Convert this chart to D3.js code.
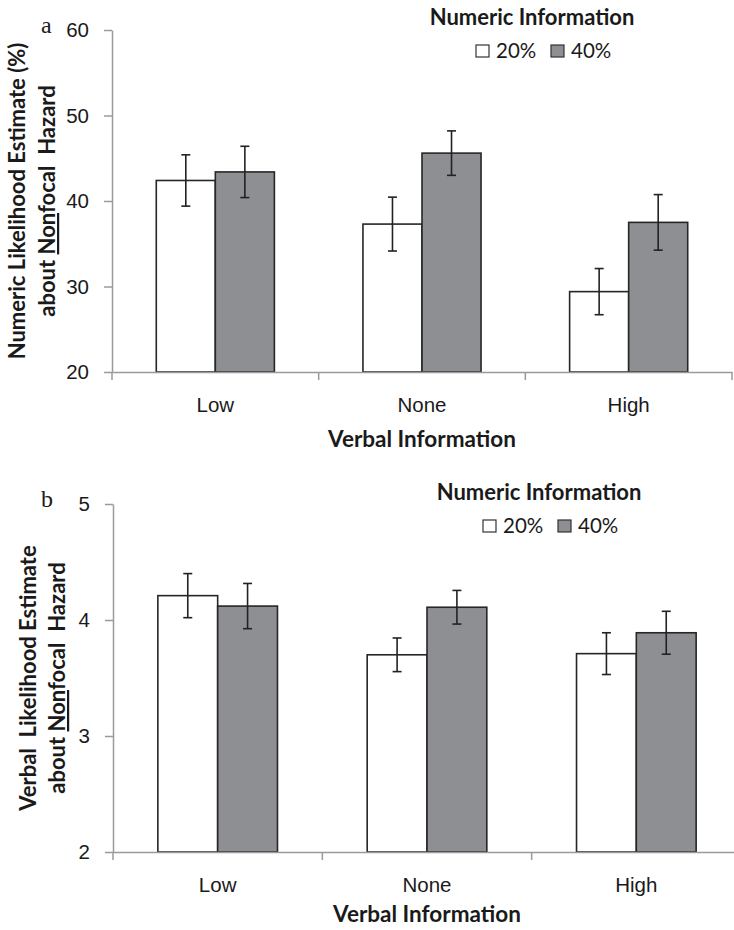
<!DOCTYPE html>
<html>
<head>
<meta charset="utf-8">
<script src="https://cdn.jsdelivr.net/npm/d3@7"></script>
<style>
  body { margin: 0; background: #fff; }
  svg { display: block; font-family: Lato, "Open Sans", sans-serif; }
  .axis path, .axis line { stroke: #9a9a9a; stroke-width: 1.5; }
  .axis text { fill: #1a1a1a; font-size: 20.5px; }
</style>
</head>
<body>
<svg id="chart" width="734" height="930"></svg>
<script>
// data
var categories = ["Low", "None", "High"];
var seriesNames = ["20%", "40%"];

var numericMeans20 = [42.4, 37.3, 29.4];
var numericMeans40 = [43.4, 45.6, 37.5];
var numericErr20 = [3.0, 3.15, 2.7];
var numericErr40 = [3.0, 2.6, 3.25];
var numericTicks = [20, 30, 40, 50, 60];

var verbalMeans20 = [4.21, 3.70, 3.71];
var verbalMeans40 = [4.12, 4.11, 3.89];
var verbalErr20 = [0.19, 0.145, 0.18];
var verbalErr40 = [0.195, 0.145, 0.185];
var verbalTicks = [2, 3, 4, 5];

var fills = { "20%": "#ffffff", "40%": "#8e8f92" };

var svg = d3.select("#chart");

function drawPanel(opt) {
  var g = svg.append("g");

  var rows = [];
  categories.forEach(function(c, i) {
    rows.push({ cat: c, key: "20%", value: opt.m20[i], err: opt.e20[i] });
    rows.push({ cat: c, key: "40%", value: opt.m40[i], err: opt.e40[i] });
  });

  var x0 = d3.scaleBand().domain(categories).range([opt.left, opt.right]);
  var x1 = d3.scaleBand().domain(seriesNames).range([0, x0.bandwidth()]).paddingOuter(0.75);
  var y = d3.scaleLinear().domain(d3.extent(opt.ticks)).range([opt.bottom, opt.top]);

  // bars
  g.selectAll("rect.bar").data(rows).enter().append("rect")
      .attr("class", "bar")
      .attr("x", function(d) { return x0(d.cat) + x1(d.key); })
      .attr("width", x1.bandwidth())
      .attr("y", function(d) { return y(d.value); })
      .attr("height", function(d) { return y(opt.ticks[0]) - y(d.value); })
      .attr("fill", function(d) { return fills[d.key]; })
      .attr("stroke", "#262626")
      .attr("stroke-width", 1.6);

  // error bars
  var eb = g.selectAll("g.err").data(rows).enter().append("g")
      .attr("class", "err")
      .attr("transform", function(d) { return "translate(" + (x0(d.cat) + x1(d.key) + x1.bandwidth() / 2) + ",0)"; })
      .attr("stroke", "#222")
      .attr("stroke-width", 1.6);
  eb.append("line")
      .attr("y1", function(d) { return y(d.value + d.err); })
      .attr("y2", function(d) { return y(d.value - d.err); });
  eb.append("line").attr("x1", -4.5).attr("x2", 4.5)
      .attr("y1", function(d) { return y(d.value + d.err); })
      .attr("y2", function(d) { return y(d.value + d.err); });
  eb.append("line").attr("x1", -4.5).attr("x2", 4.5)
      .attr("y1", function(d) { return y(d.value - d.err); })
      .attr("y2", function(d) { return y(d.value - d.err); });

  // y axis
  g.append("g")
      .attr("class", "axis")
      .attr("transform", "translate(" + opt.left + ",0)")
      .call(d3.axisLeft(y).tickValues(opt.ticks).tickFormat(d3.format("d"))
        .tickSize(8).tickSizeOuter(0).tickPadding(15));

  // x axis, labels at centres, ticks at band edges
  var xa = g.append("g")
      .attr("class", "axis")
      .attr("transform", "translate(0," + opt.bottom + ")")
      .call(d3.axisBottom(x0).tickSize(0).tickPadding(25));
  var edges = categories.map(function(c) { return x0(c); }).concat([opt.right]);
  xa.selectAll("line.edge").data(edges).enter().append("line")
      .attr("class", "edge")
      .attr("x1", function(d) { return d; })
      .attr("x2", function(d) { return d; })
      .attr("y1", 0).attr("y2", 8);

  // x title
  g.append("text")
      .attr("x", (opt.left + opt.right) / 2)
      .attr("y", opt.bottom + opt.xTitleGap)
      .attr("text-anchor", "middle")
      .attr("font-size", 22.5).attr("font-weight", "bold").attr("fill", "#1a1a1a")
      .text("Verbal Information");

  // y title (two lines, rotated)
  var mid = (opt.top + opt.bottom) / 2;
  opt.ylines.forEach(function(line, i) {
    var t = g.append("text")
        .attr("transform", "translate(" + opt.ybase[i] + "," + mid + ") rotate(-90)")
        .attr("text-anchor", "middle")
        .attr("font-size", 22).attr("font-weight", "bold").attr("fill", "#1a1a1a")
        .style("white-space", "pre");
    line.forEach(function(part) {
      t.append("tspan")
          .style("text-decoration", part.u ? "underline" : "none")
          .text(part.s);
    });
  });

  // panel letter
  g.append("text")
      .attr("x", 41).attr("y", opt.top + 3)
      .attr("font-family", "'Liberation Serif', serif")
      .attr("font-size", 24).attr("fill", "#1a1a1a")
      .text(opt.letter);

  // legend
  var lg = g.append("g").attr("transform", "translate(" + opt.legX + "," + opt.legY + ")");
  lg.append("text")
      .attr("x", 0).attr("y", 0)
      .attr("text-anchor", "middle")
      .attr("font-size", 22).attr("font-weight", "bold").attr("fill", "#1a1a1a")
      .text("Numeric Information");
  var items = lg.selectAll("g.item").data(seriesNames).enter().append("g")
      .attr("class", "item")
      .attr("transform", function(d, i) { return "translate(" + (-56 + i * 75) + ",20)"; });
  items.append("rect")
      .attr("width", 13).attr("height", 12)
      .attr("fill", function(d) { return fills[d]; })
      .attr("stroke", "#333").attr("stroke-width", 1.2);
  items.append("text")
      .attr("x", 20).attr("y", 12.5)
      .attr("font-size", 20.5).attr("fill", "#1a1a1a")
      .text(function(d) { return d; });
}

drawPanel({
  m20: numericMeans20, m40: numericMeans40, e20: numericErr20, e40: numericErr40,
  ticks: numericTicks,
  left: 112, right: 732, top: 30, bottom: 372,
  xTitleGap: 75,
  ylines: [[{ s: "Numeric Likelihood Estimate (%)" }],
           [{ s: "about " }, { s: "Non", u: true }, { s: "focal  Hazard" }]],
  ybase: [25, 55],
  letter: "a",
  legX: 532, legY: 25
});

drawPanel({
  m20: verbalMeans20, m40: verbalMeans40, e20: verbalErr20, e40: verbalErr40,
  ticks: verbalTicks,
  left: 113, right: 741, top: 504, bottom: 852,
  xTitleGap: 70,
  ylines: [[{ s: "Verbal  Likelihood Estimate" }],
           [{ s: "about " }, { s: "Non", u: true }, { s: "focal  Hazard" }]],
  ybase: [36, 65],
  letter: "b",
  legX: 539, legY: 500
});
</script>
</body>
</html>
